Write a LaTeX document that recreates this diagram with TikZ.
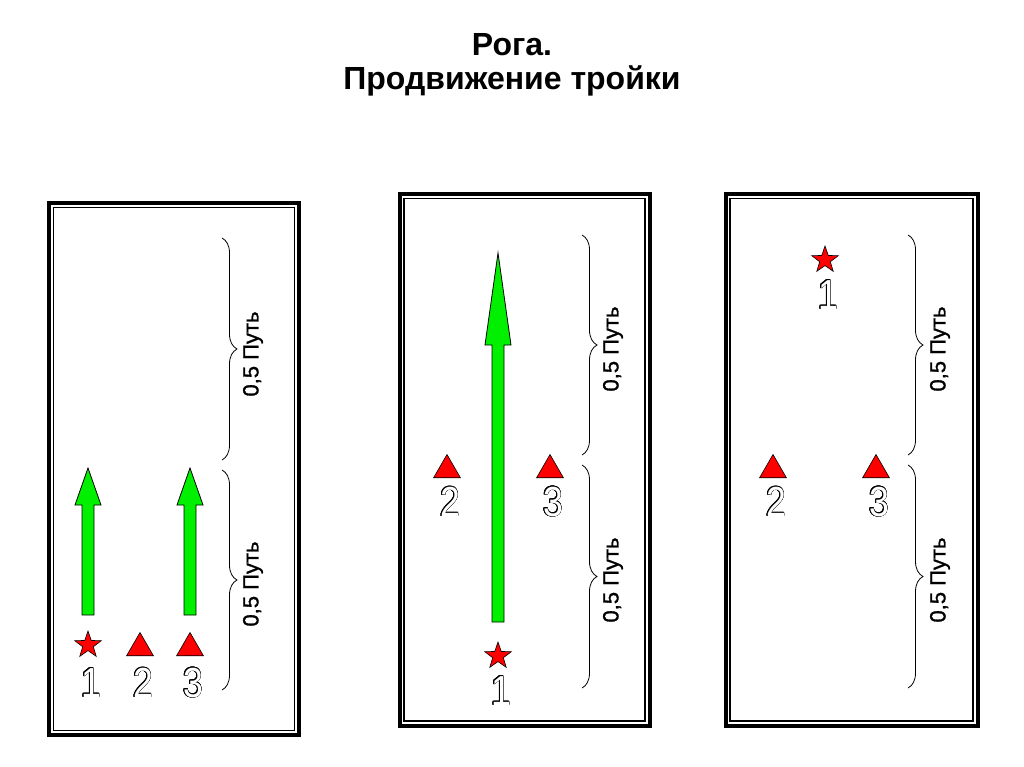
\documentclass[tikz,border=0pt]{standalone}
\usepackage{fontspec}
\setmainfont{Liberation Sans}
\newfontfamily\numfont[FakeStretch=0.85]{Liberation Sans}
\newfontfamily\wayfont[FakeBold=1.2]{Liberation Sans}
\usepackage{contour}
\contourlength{0.55pt}
\usetikzlibrary{shapes.geometric,decorations.pathreplacing,positioning}

\definecolor{movegreen}{RGB}{0,240,0}

\tikzset{
  frameouter/.style={line width=4pt},
  frameinner/.style={line width=1.1pt},
  leader/.style={star, star points=5, star point ratio=2.5, minimum size=28pt,
    inner sep=0pt, fill=red, draw=black, line width=0.6pt},
  mate/.style={regular polygon, regular polygon sides=3, minimum size=31pt,
    inner sep=0pt, fill=red, draw=black, line width=0.6pt},
  num/.style={font=\numfont\fontsize{42}{42}\selectfont, inner sep=0pt, xshift=3pt},
  halfway/.style={decorate, decoration={brace, amplitude=15pt}, line width=0.8pt},
  waylabel/.style={rotate=90, font=\wayfont\fontsize{22}{22}\selectfont, inner sep=0pt},
  move/.style={fill=movegreen, draw=black, line width=0.8pt}
}

\newcommand{\outlined}[1]{\contour{black}{\textcolor{white}{#1}}}
% x, bottom, head base, tip
\newcommand{\movearrow}[4]{%
  \draw[move] (#1-6,#2) -- (#1-6,#3) -- (#1-13,#3) -- (#1,#4)
    -- (#1+13,#3) -- (#1+6,#3) -- (#1+6,#2) -- cycle;}

\begin{document}
\begin{tikzpicture}[x=1pt, y=-1pt, node distance=38pt, on grid]
  \useasboundingbox (0,0) rectangle (1024,767);

  \node (title)    at (512,45) {\fontsize{32}{32}\selectfont\bfseries Рога.};
  \node (subtitle) at (512,81) {\fontsize{32}{32}\selectfont\bfseries Продвижение тройки};

  % panel 1
  \draw[frameouter] (49,203) rectangle (299,735);
  \draw[frameinner] (53.5,207.5) rectangle (294.5,730.5);
  \movearrow{88}{615}{505}{468}
  \movearrow{190}{615}{505}{468}
  \node[leader] (s1)  at (88,645)  {};
  \node[mate]   (t12) at (140,648) {};
  \node[mate]   (t13) at (190,648) {};
  \node[num] (n1)  [below=of s1]  {\outlined{1}};
  \node[num] (n12) [below=35pt of t12] {\outlined{2}};
  \node[num] (n13) [below=35pt of t13] {\outlined{3}};
  \draw[halfway] (222,238) -- (222,460);
  \draw[halfway] (222,470) -- (222,690);
  \node[waylabel] (w1a) at (253,354) {0,5 Путь};
  \node[waylabel] (w1b) at (253,584) {0,5 Путь};

  % panel 2
  \draw[frameouter] (399.5,194) rectangle (649.5,725.5);
  \draw[frameinner] (404,198.5) rectangle (645,721);
  \movearrow{498}{622}{345}{253}
  \node[leader] (s2)  at (498,656) {};
  \node[mate]   (t22) at (447,470) {};
  \node[mate]   (t23) at (550,470) {};
  \node[num] (n2)  [below=35pt of s2]  {\outlined{1}};
  \node[num] (n22) [below=32pt of t22] {\outlined{2}};
  \node[num] (n23) [below=32pt of t23] {\outlined{3}};
  \draw[halfway] (582,235) -- (582,455);
  \draw[halfway] (582,465) -- (582,688);
  \node[waylabel] (w2a) at (613,349) {0,5 Путь};
  \node[waylabel] (w2b) at (613,580) {0,5 Путь};

  % panel 3
  \draw[frameouter] (725.5,194) rectangle (977.5,725.5);
  \draw[frameinner] (730,198.5) rectangle (973,721);
  \node[leader] (s3)  at (825,260) {};
  \node[mate]   (t32) at (773,470) {};
  \node[mate]   (t33) at (876,470) {};
  \node[num] (n3)  [below=35pt of s3]  {\outlined{1}};
  \node[num] (n32) [below=32pt of t32] {\outlined{2}};
  \node[num] (n33) [below=32pt of t33] {\outlined{3}};
  \draw[halfway] (908,235) -- (908,455);
  \draw[halfway] (908,465) -- (908,688);
  \node[waylabel] (w3a) at (940,349) {0,5 Путь};
  \node[waylabel] (w3b) at (940,580) {0,5 Путь};
\end{tikzpicture}
\end{document}
